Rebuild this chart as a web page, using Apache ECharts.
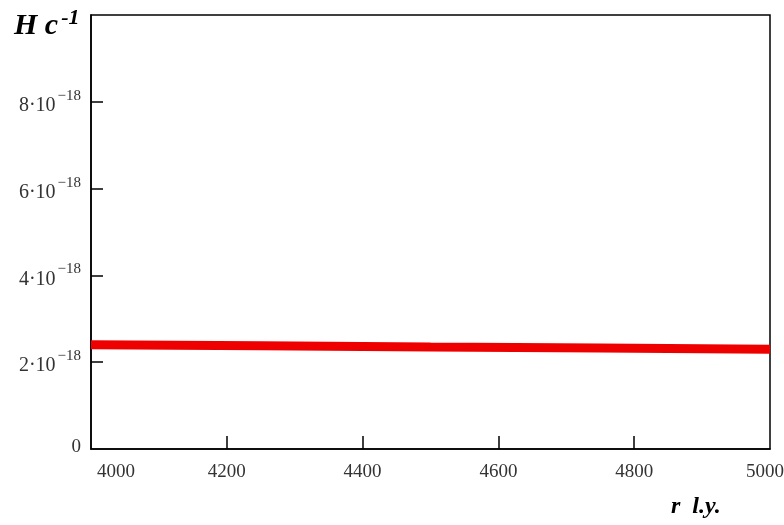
<!DOCTYPE html>
<html>
<head>
<meta charset="utf-8">
<script src="https://cdn.jsdelivr.net/npm/echarts@6/dist/echarts.min.js"></script>
<style>html,body{margin:0;padding:0;background:#fff}#c{width:784px;height:525px}</style>
</head>
<body>
<div id="c"></div>
<script>
// distance r, light years
const rValues = [4000, 4250, 4500, 4750, 5000];
// H values, in units of 1e-18 s^-1
const hValues = [2.40, 2.38, 2.35, 2.33, 2.30];
const xTicks = [4000, 4200, 4400, 4600, 4800, 5000];
const yTicks = [0, 2, 4, 6, 8];

const chart = echarts.init(document.getElementById('c'), null, {renderer: 'canvas'});
const serif = '"Liberation Serif", "DejaVu Serif", serif';
chart.setOption({
  animation: false,
  backgroundColor: '#fff',
  grid: {left: 91, right: 14, top: 15, bottom: 76, outerBoundsMode: 'none', containLabel: false,
    show: true, borderColor: '#000', borderWidth: 1.5, backgroundColor: 'transparent'},
  title: [{
    text: '{m|H c}{s|-1}',
    left: 9, top: 2,
    textStyle: {rich: {
      m: {fontFamily: serif, fontSize: 30, fontWeight: 'bold', fontStyle: 'italic', color: '#000'},
      s: {fontFamily: serif, fontSize: 22, fontWeight: 'bold', fontStyle: 'italic', color: '#000', padding: [0, 0, 16, 3]}
    }}
  }, {
    text: 'r  l.y.',
    left: 666, top: 490,
    textStyle: {fontFamily: serif, fontSize: 24, fontWeight: 'bold', fontStyle: 'italic', color: '#000'}
  }],
  xAxis: {
    type: 'value', min: 4000, max: 5000, interval: 200,
    axisLine: {show: true, lineStyle: {color: '#000', width: 1.5}},
    axisTick: {show: true, inside: true, length: 13, lineStyle: {color: '#000', width: 1.5},
      customValues: xTicks.slice(1, -1)},
    splitLine: {show: false},
    axisLabel: {
      margin: 14, color: '#333', fontFamily: serif, fontSize: 19,
      customValues: xTicks,
      alignMinLabel: 'left', alignMaxLabel: 'center',
      formatter: v => v === 4000 ? '{f|4000}' : (v === 5000 ? '{g|5000}{sp|}' : String(v)),
      rich: {
        f: {fontFamily: serif, fontSize: 19, color: '#333', padding: [0, 0, 0, 6]},
        g: {fontFamily: serif, fontSize: 19, color: '#333'},
        sp: {width: 10}
      }
    }
  },
  yAxis: {
    type: 'value', min: 0, max: 10, interval: 2,
    axisLine: {show: true, lineStyle: {color: '#000', width: 1.5}},
    axisTick: {show: true, inside: true, length: 12, lineStyle: {color: '#000', width: 1.5},
      customValues: yTicks.slice(1)},
    splitLine: {show: false},
    axisLabel: {
      margin: 10, color: '#333', fontFamily: serif,
      customValues: yTicks,
      formatter: v => v === 0 ? '{z|0}' : '{a|' + v + '·10}{b|−18}',
      rich: {
        z: {fontFamily: serif, fontSize: 19, color: '#333', padding: [0, 0, 4, 0]},
        a: {fontFamily: serif, fontSize: 20, color: '#333', padding: [8, 0, 0, 0]},
        b: {fontFamily: serif, fontSize: 15, color: '#333', padding: [0, 0, 12, 2]}
      }
    }
  },
  series: [{
    type: 'line',
    data: rValues.map((r, i) => [r, hValues[i]]),
    showSymbol: false,
    lineStyle: {color: '#ee0000', width: 9, cap: 'butt'},
    clip: true
  }]
});
</script>
</body>
</html>
